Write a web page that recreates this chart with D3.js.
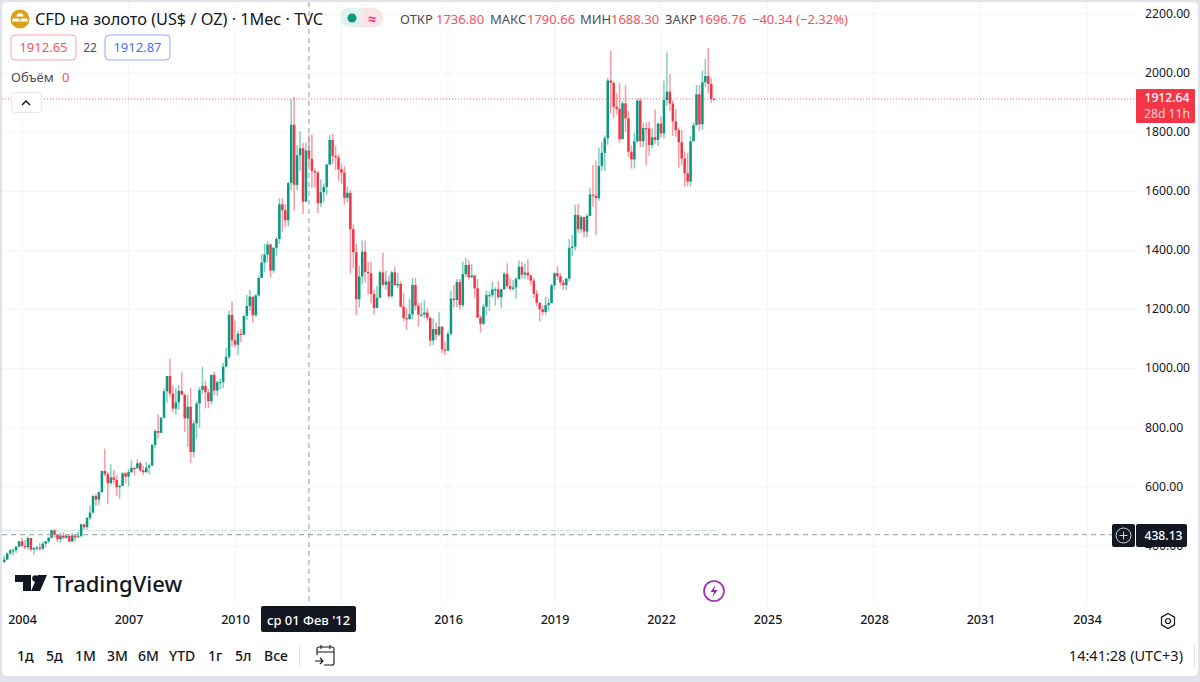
<!DOCTYPE html>
<html><head><meta charset="utf-8">
<script src="https://cdn.jsdelivr.net/npm/d3@7"></script>
<style>html,body{margin:0;padding:0;background:#fff;overflow:hidden}svg{display:block}text{font-family:"Noto Sans",Roboto,sans-serif}</style>
</head><body><svg id="c" width="1200" height="682"></svg>
<script>
// Monthly bars, first bar Jul 2003 (index -6 relative to Jan 2004)
const firstIndex = -6;
const opens = [
346,354,375,386,386,398,
416,400,396,427,388,393,395,391,408,416,428,453,
438,423,435,428,435,415,436,429,433,473,464,495,
513,569,557,582,654,643,613,632,624,599,603,646,
635,650,664,663,680,656,650,665,672,742,789,783,
834,923,975,916,865,886,925,912,832,871,718,815,
882,928,942,920,890,979,926,954,955,1007,1040,1182,
1096,1081,1118,1115,1179,1212,1244,1181,1248,1307,1359,1386,
1420,1332,1409,1439,1556,1536,1502,1628,1825,1622,1722,1746,
1565,1738,1710,1669,1664,1560,1597,1615,1691,1774,1720,1715,
1675,1663,1578,1595,1472,1394,1235,1312,1396,1327,1323,1253,
1205,1240,1326,1284,1295,1245,1326,1282,1287,1210,1171,1167,
1184,1283,1213,1183,1183,1190,1172,1095,1134,1115,1142,1065,
1061,1118,1237,1232,1293,1215,1320,1351,1309,1315,1272,1173,
1152,1210,1249,1249,1268,1268,1242,1269,1321,1280,1270,1275,
1303,1345,1318,1325,1315,1298,1253,1223,1201,1192,1215,1222,
1282,1323,1313,1292,1283,1305,1409,1413,1520,1472,1513,1464,
1517,1589,1585,1577,1686,1730,1780,1975,1967,1886,1879,1777,
1898,1847,1734,1708,1769,1907,1770,1814,1813,1757,1783,1774,
1829,1796,1909,1937,1897,1837,1807,1766,1711,1661,1633,1769,
1824,1928,1827,1969,1990,1963,1912];
const highs = [
368,378,390,392,400,417,
428,420,432,428,397,400,410,416,416,430,456,457,
428,444,447,438,430,444,430,447,476,476,497,538,
573,577,585,655,730,650,677,658,640,609,650,651,
660,690,669,694,686,672,684,679,744,795,846,837,
933,975,1033,943,934,945,988,915,912,934,825,890,
938,1006,960,932,980,990,960,968,1020,1070,1195,1227,
1162,1128,1134,1180,1249,1266,1216,1252,1315,1388,1423,1431,
1423,1412,1445,1576,1577,1556,1632,1912,1920,1757,1803,1764,
1764,1792,1792,1677,1668,1641,1627,1692,1790,1795,1755,1725,
1695,1685,1617,1605,1488,1423,1348,1434,1434,1361,1361,1267,
1280,1332,1392,1331,1315,1332,1345,1324,1296,1256,1206,1238,
1307,1308,1224,1224,1232,1206,1175,1170,1157,1191,1144,1091,
1127,1263,1284,1303,1303,1362,1375,1367,1353,1319,1304,1181,
1220,1264,1262,1295,1275,1296,1270,1326,1357,1306,1299,1310,
1366,1362,1356,1369,1319,1307,1266,1223,1214,1243,1237,1287,
1326,1347,1324,1300,1306,1439,1452,1555,1557,1518,1514,1524,
1611,1689,1704,1748,1765,1789,1984,2075,1973,1933,1966,1906,
1959,1872,1755,1798,1913,1916,1832,1834,1836,1813,1877,1832,
1853,1974,2070,1998,1909,1879,1815,1808,1735,1730,1787,1832,
1960,1960,2009,2048,2085,1983,1913];
const lows = [
342,354,370,367,376,397,
398,390,387,381,371,384,384,386,396,410,425,428,
413,411,424,424,414,414,417,430,432,455,456,488,
513,537,538,582,636,542,605,611,570,560,603,612,
602,646,638,661,650,640,648,642,672,732,764,782,
832,885,905,855,845,862,913,786,735,681,700,763,
800,915,865,866,880,910,908,930,935,1004,1034,1075,
1072,1045,1089,1114,1165,1195,1157,1175,1243,1307,1327,1360,
1309,1324,1382,1422,1462,1478,1481,1604,1535,1604,1670,1523,
1563,1688,1612,1613,1527,1548,1563,1589,1687,1692,1672,1635,
1626,1555,1563,1321,1339,1180,1207,1286,1291,1251,1221,1182,
1222,1239,1277,1268,1240,1241,1281,1273,1207,1160,1131,1168,
1167,1198,1142,1175,1170,1162,1077,1080,1097,1110,1053,1046,
1061,1112,1208,1208,1199,1207,1310,1302,1307,1241,1171,1122,
1147,1180,1195,1240,1214,1236,1205,1266,1271,1265,1264,1236,
1302,1303,1303,1301,1282,1239,1211,1160,1180,1182,1196,1221,
1267,1300,1280,1266,1266,1296,1381,1400,1460,1459,1445,1445,
1517,1548,1451,1568,1670,1670,1757,1863,1848,1860,1764,1775,
1802,1717,1677,1677,1765,1750,1750,1688,1721,1746,1761,1753,
1781,1780,1890,1872,1787,1785,1680,1688,1615,1617,1616,1773,
1823,1804,1809,1953,1932,1899,1911];
const closes = [
354,375,385,386,398,416,
400,396,427,388,393,395,391,408,416,428,453,438,
423,435,428,435,415,436,429,433,473,464,495,513,
569,557,582,654,643,613,632,624,599,603,646,635,
650,664,663,680,656,650,665,672,742,789,783,834,
923,975,916,865,886,925,912,832,871,718,815,882,
928,942,920,890,979,926,954,955,1007,1040,1182,1096,
1081,1118,1115,1179,1212,1244,1181,1248,1307,1359,1386,1420,
1332,1409,1439,1556,1536,1502,1628,1825,1622,1722,1746,1565,
1738,1710,1669,1664,1560,1597,1615,1691,1774,1720,1715,1675,
1663,1578,1595,1472,1394,1235,1312,1396,1327,1323,1253,1205,
1240,1326,1284,1295,1245,1326,1282,1287,1210,1171,1167,1184,
1283,1213,1183,1183,1190,1172,1095,1134,1115,1142,1065,1061,
1118,1237,1232,1293,1215,1320,1351,1309,1315,1272,1173,1152,
1210,1249,1249,1268,1268,1242,1269,1321,1280,1270,1275,1303,
1345,1318,1325,1315,1298,1253,1223,1201,1192,1215,1222,1282,
1323,1313,1292,1283,1305,1409,1413,1520,1472,1513,1464,1517,
1589,1585,1577,1686,1730,1780,1975,1967,1886,1879,1777,1898,
1847,1734,1708,1769,1907,1770,1814,1813,1757,1783,1774,1829,
1796,1909,1937,1897,1837,1807,1766,1711,1661,1633,1769,1824,
1928,1827,1969,1990,1963,1912,1912.64];
const yearTicks = [2004,2007,2010,2013,2016,2019,2022,2025,2028,2031,2034];
const yearLabels = ["2004","2007","2010","","2016","2019","2022","2025","2028","2031","2034"];
const priceTicks = [2200,2000,1800,1600,1400,1200,1000,800,600];
const rangeLabels = ["1д","5д","1М","3М","6М","YTD","1г","5л","Все"];
const lastPrice = 1912.64, crossPrice = 438.13, crossMonth = 97, preLine = 452;

const UP="#089981", DOWN="#f23645", INK="#131722", GRID="#f3f4f6";
const svg=d3.select("#c");
const plotR=1136, plotB=605;
const x=d3.scaleLinear().domain([-22/2.9583,(plotR-22)/2.9583]).range([0,plotR]);
const y=d3.scaleLinear().domain([2247.4,200.4]).range([0,plotB]);
const tIdx=t=>(t-2004)*12;

// frame
svg.append("rect").attr("width",1200).attr("height",682).attr("fill","#e0e3eb");
svg.append("rect").attr("x",2).attr("y",2).attr("width",1196).attr("height",674).attr("rx",5).attr("fill","#fff");

// grid
svg.append("g").selectAll("line").data(yearTicks).join("line")
 .attr("x1",d=>x(tIdx(d))).attr("x2",d=>x(tIdx(d))).attr("y1",2).attr("y2",plotB).attr("stroke",GRID);
svg.append("g").selectAll("line").data(priceTicks.concat([400])).join("line")
 .attr("x1",2).attr("x2",plotR).attr("y1",d=>y(d)).attr("y2",d=>y(d)).attr("stroke",GRID);

// lines
svg.append("line").attr("x1",2).attr("x2",716).attr("y1",y(preLine)).attr("y2",y(preLine)).attr("stroke",UP).attr("stroke-opacity",.5).attr("stroke-dasharray","1 3");
svg.append("line").attr("x1",2).attr("x2",716).attr("y1",y(preLine)).attr("y2",y(preLine)).attr("stroke",DOWN).attr("stroke-opacity",.4).attr("stroke-dasharray","1 7").attr("stroke-dashoffset",2);
svg.append("line").attr("x1",2).attr("x2",plotR).attr("y1",y(lastPrice)).attr("y2",y(lastPrice)).attr("stroke",DOWN).attr("stroke-opacity",.75).attr("stroke-dasharray","1 2");

// candles
const idx=d3.range(closes.length);
const g=svg.append("g").style("filter","blur(0.3px)");
g.selectAll("line.w").data(idx).join("line").attr("class","w")
 .attr("x1",i=>x(i+firstIndex)).attr("x2",i=>x(i+firstIndex))
 .attr("y1",i=>y(highs[i])).attr("y2",i=>y(lows[i]))
 .attr("stroke",i=>closes[i]>=opens[i]?UP:DOWN).attr("stroke-width",1.5).attr("stroke-opacity",.5);
g.selectAll("rect").data(idx).join("rect")
 .attr("x",i=>x(i+firstIndex)-1.25).attr("width",2.5)
 .attr("y",i=>y(Math.max(opens[i],closes[i])))
 .attr("height",i=>Math.max(1.2,Math.abs(y(opens[i])-y(closes[i]))))
 .attr("fill",i=>closes[i]>=opens[i]?UP:DOWN);

// crosshair
svg.append("line").attr("x1",x(crossMonth)).attr("x2",x(crossMonth)).attr("y1",2).attr("y2",plotB).attr("stroke","#9598a1").attr("stroke-dasharray","5 4");
svg.append("line").attr("x1",2).attr("x2",1112).attr("y1",y(crossPrice)).attr("y2",y(crossPrice)).attr("stroke","#9598a1").attr("stroke-dasharray","5 4");

// axes
const ax=svg.append("g").attr("transform",`translate(${plotR},0)`)
 .call(d3.axisRight(y).tickValues(priceTicks.concat([400])).tickFormat(d3.format(".2f")).tickSize(0).tickPadding(9));
ax.select(".domain").remove();
ax.selectAll("text").attr("font-size",12.2).attr("dy","0.27em").attr("fill",INK).style("font-family",'"Noto Sans"');
const bx=svg.append("g").attr("transform",`translate(0,${plotB})`)
 .call(d3.axisBottom(x).tickValues(yearTicks.map(tIdx)).tickFormat((d,i)=>yearLabels[i]).tickSize(0).tickPadding(10));
bx.select(".domain").remove();
bx.selectAll("text").attr("font-size",12.5).attr("fill",INK).attr("font-weight",500).style("font-family",'"Noto Sans"');

function T(s,xx,yy,o={}){return svg.append("text").text(s).attr("x",xx).attr("y",yy).attr("font-size",o.size||13).attr("fill",o.fill||INK).attr("text-anchor",o.anchor||"start").attr("font-weight",o.weight||400);}
function box(xx,yy,w,h,f,o={}){return svg.append("rect").attr("x",xx).attr("y",yy).attr("width",w).attr("height",h).attr("rx",o.rx??2).attr("fill",f).attr("stroke",o.stroke||"none");}

// header
svg.append("circle").attr("cx",20).attr("cy",19).attr("r",9.5).attr("fill","#d9a21b");
svg.append("path").attr("d","M17.5 13.5h5l1.2 3h-7.4zM13 18.5h6l1 3h-8zM21 18.5h6l1 3h-8z").attr("fill","#fff");
T("CFD на золото (US$ / OZ) · 1Мес · TVC",35,25,{size:16.3});
box(340,8,22,19,"#e0f3ef",{rx:9}); box(351,8,11,19,"#e0f3ef",{rx:0});
box(362,8,21,19,"#fce3ea",{rx:9}); box(362,8,10,19,"#fce3ea",{rx:0});
svg.append("circle").attr("cx",352).attr("cy",18).attr("r",4.5).attr("fill",UP);
T("≈",372,24,{size:15,anchor:"middle",fill:"#f23a78",weight:700});
const GR="#4a4e5a", RD="#f7525f";
[["ОТКР",400,GR],["1736.80",436,RD],["МАКС",490,GR],["1790.66",527,RD],["МИН",580,GR],["1688.30",611,RD],["ЗАКР",665,GR],["1696.76",698,RD],["−40.34 (−2.32%)",752,RD]]
 .forEach(d=>T(d[0],d[1],24,{size:13,fill:d[2]}));
box(11,35,65,25,"#fff",{stroke:"#f7a3a9",rx:4}); T("1912.65",43.5,52,{anchor:"middle",fill:RD});
T("22",90,52,{anchor:"middle",size:12,fill:GR});
box(105,35,65,25,"#fff",{stroke:"#92a8ff",rx:4}); T("1912.87",137.5,52,{anchor:"middle",fill:"#4f6ff0"});
T("Объём",11,82,{fill:GR}); T("0",62,82,{fill:RD});
box(11.5,92.5,30,20,"#fff",{stroke:"#e6e8ee",rx:3});
svg.append("path").attr("d","M22 105l4-4 4 4").attr("fill","none").attr("stroke",INK).attr("stroke-width",1.5);

// price labels
box(1136,89,59,34,DOWN,{rx:1});
T("1912.64",1167,102,{anchor:"middle",fill:"#fff",size:12.2,weight:500});
T("28d 11h",1167,118,{anchor:"middle",fill:"#fdd4d8",size:12.2});
box(1112,524,23,23,INK,{rx:2}); box(1136,524,51,23,INK,{rx:2});
svg.append("circle").attr("cx",1123.5).attr("cy",535.5).attr("r",7.5).attr("fill","none").attr("stroke","#d1d4dc");
svg.append("path").attr("d","M1123.5 531.5v8M1119.5 535.5h8").attr("stroke","#d1d4dc");
T("438.13",1163.5,540,{anchor:"middle",fill:"#fff",size:12.2,weight:500});

// logo
svg.append("path").attr("d","M15 575h16v16h-8v-9h-8z").attr("fill",INK);
svg.append("circle").attr("cx",35.5).attr("cy",578.5).attr("r",3.3).attr("fill",INK);
svg.append("path").attr("d","M38 575h9l-7 16h-9z").attr("fill",INK);
T("TradingView",53,592,{size:22,weight:500});

// lightning
svg.append("circle").attr("cx",714).attr("cy",591).attr("r",10).attr("fill","#fff").attr("stroke","#9c27b0").attr("stroke-width",1.6);
svg.append("path").attr("d","M715.5 585l-5 7h3.5l-1.5 5 5-7h-3.5z").attr("fill","#9c27b0");

// time label
box(261,606,95,26,INK,{rx:2});
T("ср 01 Фев '12",308.5,625,{anchor:"middle",fill:"#fff",size:13,weight:500});

// gear
svg.append("path").attr("d","M1168 613.5l6.5 3.7v7.6l-6.5 3.7-6.5-3.7v-7.6z").attr("fill","none").attr("stroke",INK).attr("stroke-width",1.2);
svg.append("circle").attr("cx",1168).attr("cy",621).attr("r",2.5).attr("fill","none").attr("stroke",INK).attr("stroke-width",1.2);

// range bar
const rangeX=[17,46,75,107,138,169,208,235,264];
rangeLabels.forEach((s,i)=>T(s,rangeX[i],661,{size:14,weight:500}));
svg.append("line").attr("x1",299.5).attr("x2",299.5).attr("y1",644).attr("y2",668).attr("stroke","#e0e3eb");
svg.append("path").attr("d","M317 655v-6a2 2 0 0 1 2-2h13a2 2 0 0 1 2 2v14a2 2 0 0 1-2 2h-8M317 652h17M321 645v4M330 645v4M315 661h8m-3-3l3 3-3 3").attr("fill","none").attr("stroke",INK).attr("stroke-width",1.1);
T("14:41:28 (UTC+3)",1183,661,{anchor:"end",size:14.5});
svg.append("line").attr("x1",1194.5).attr("x2",1194.5).attr("y1",644).attr("y2",668).attr("stroke","#e0e3eb");
</script></body></html>
